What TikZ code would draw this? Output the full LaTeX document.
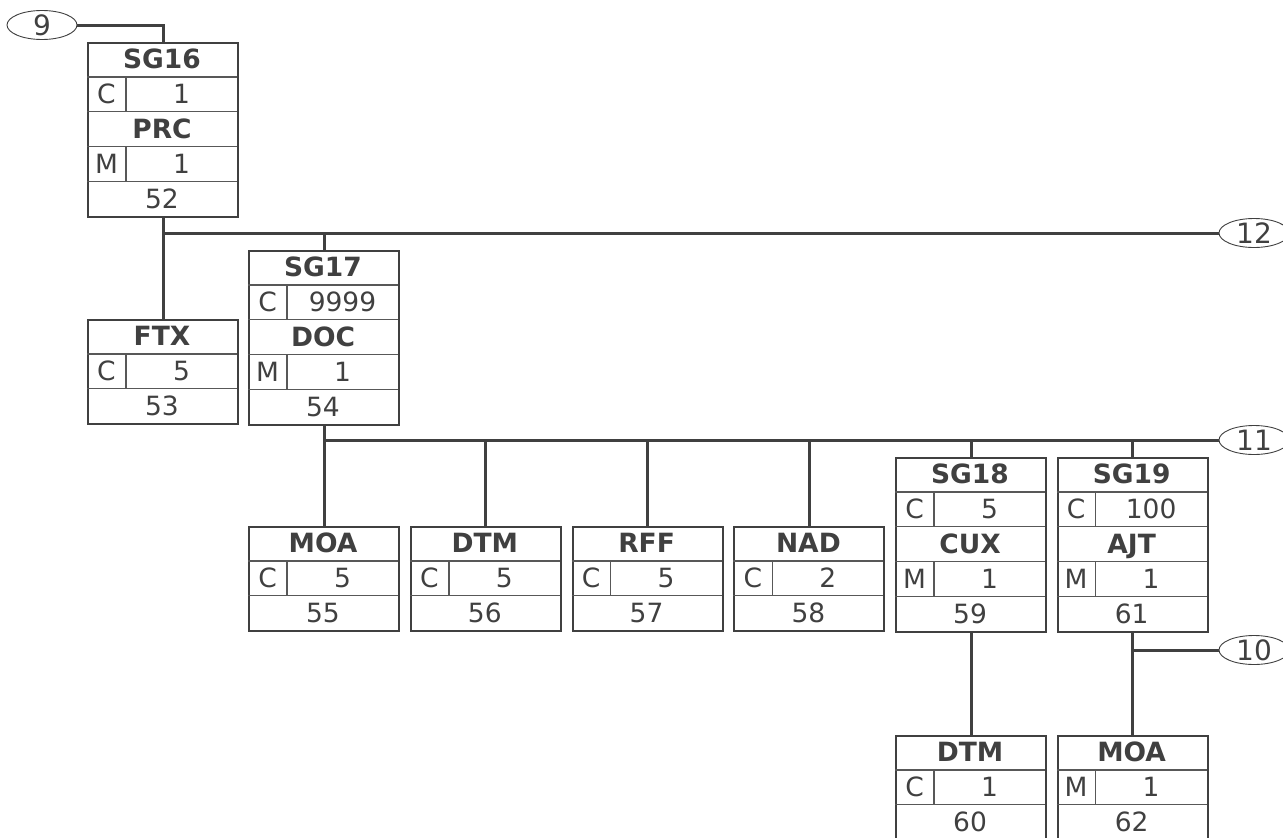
\documentclass[tikz,border=0pt]{standalone}
\usepackage{fontspec}
\setmainfont{DejaVu Sans}
\usepackage{tikz}
\usetikzlibrary{positioning}
\usetikzlibrary{shapes.geometric}
\usetikzlibrary{calc}

\definecolor{inkgray}{HTML}{404040}
\definecolor{rulegray}{HTML}{585858}
\def\rowh{34.8}
\def\boxw{150}
\def\stw{39}

\tikzset{
  segbox/.style={draw=inkgray, line width=2pt, minimum width=150pt, minimum height=104.4pt, inner sep=0pt},
  grpbox/.style={segbox, minimum height=174pt},
  conn/.style={ellipse, draw=inkgray, line width=0.9pt, minimum width=70pt, minimum height=29pt, inner sep=0pt, text=inkgray, text height=20pt, text depth=0pt, font=\fontsize{28}{30}\selectfont},
  link/.style={draw=inkgray, line width=3pt},
  inner/.style={draw=rulegray, line width=1.4pt},
  tagtxt/.style={text=inkgray, font=\fontsize{26.5}{30}\selectfont\bfseries, inner sep=0pt, text height=19pt, text depth=0pt},
  valtxt/.style={text=inkgray, font=\fontsize{26.5}{30}\selectfont, inner sep=0pt, text height=19pt, text depth=0pt}
}

\newcommand{\rowpair}[5]{%
  \begin{scope}[shift={(#1.north west)}]
    \draw[inner] (0,{(#2+1)*\rowh}) -- (\boxw,{(#2+1)*\rowh})
                 (0,{(#2+2)*\rowh}) -- (\boxw,{(#2+2)*\rowh})
                 (\stw,{(#2+1)*\rowh}) -- (\stw,{(#2+2)*\rowh});
    \node[tagtxt] (#1-t#2) at ({\boxw/2},{(#2+0.5)*\rowh}) {#3};
    \node[valtxt] (#1-s#2) at ({\stw/2},{(#2+1.5)*\rowh}) {#4};
    \node[valtxt] (#1-r#2) at ({(\stw+\boxw)/2},{(#2+1.5)*\rowh}) {#5};
  \end{scope}}
\newcommand{\segbody}[5]{%
  \rowpair{#1}{0}{#2}{#3}{#4}
  \begin{scope}[shift={(#1.north west)}]
    \node[valtxt] (#1-n) at ({\boxw/2},{2.5*\rowh}) {#5};
  \end{scope}}
\newcommand{\grpbody}[8]{%
  \rowpair{#1}{0}{#2}{#3}{#4}
  \rowpair{#1}{2}{#5}{#6}{#7}
  \begin{scope}[shift={(#1.north west)}]
    \node[valtxt] (#1-n) at ({\boxw/2},{4.5*\rowh}) {#8};
  \end{scope}}

\begin{document}
\begin{tikzpicture}[x=1pt,y=-1pt,node distance=161.8pt,on grid]
   \useasboundingbox (0,0) rectangle (1283,838);
   \node[conn] (c9)  at (42,25)    {9};
   \node[conn] (c12) at (1254,233) {12};
   \node[conn] (c11) at (1254,440) {11};
   \node[conn] (c10) at (1254,650) {10};

   \node[grpbox, anchor=north] (sg16) at (163,42)  {};
   \node[segbox, anchor=north] (ftx)  at (163,319) {};
   \node[grpbox, anchor=north] (sg17) at (324,250) {};
   \node[segbox] (moa) at (324,579.2) {};
   \node[segbox] (dtm) [right=of moa] {};
   \node[segbox] (rff) [right=of dtm] {};
   \node[segbox] (nad) [right=of rff] {};
   \node[grpbox, anchor=north] (sg18) at (971,457)    {};
   \node[grpbox, anchor=north] (sg19) at (1132.6,457) {};
   \node[segbox, anchor=north] (dtm2) at (971,735)    {};
   \node[segbox, anchor=north] (moa2) at (1132.6,735) {};

   \grpbody{sg16}{SG16}{C}{1}{PRC}{M}{1}{52}
   \segbody{ftx}{FTX}{C}{5}{53}
   \grpbody{sg17}{SG17}{C}{9999}{DOC}{M}{1}{54}
   \segbody{moa}{MOA}{C}{5}{55}
   \segbody{dtm}{DTM}{C}{5}{56}
   \segbody{rff}{RFF}{C}{5}{57}
   \segbody{nad}{NAD}{C}{2}{58}
   \grpbody{sg18}{SG18}{C}{5}{CUX}{M}{1}{59}
   \segbody{dtm2}{DTM}{C}{1}{60}
   \grpbody{sg19}{SG19}{C}{100}{AJT}{M}{1}{61}
   \segbody{moa2}{MOA}{M}{1}{62}

   \coordinate (j16) at (sg16.south |- c12.west);
   \coordinate (j17) at (sg17.south |- c11.west);
   \draw[link] (c9.east) -| (sg16.north);
   \draw[link] (sg16.south) -- (ftx.north);
   \draw[link] (j16) -- (c12.west);
   \draw[link] (sg17.north) -- (sg17.north |- j16);
   \draw[link] (sg17.south) -- (moa.north);
   \draw[link] (j17) -- (c11.west);
   \foreach \n in {dtm,rff,nad,sg18,sg19}
     \draw[link] (\n.north) -- (\n.north |- j17);
   \draw[link] (sg18.south) -- (dtm2.north);
   \draw[link] (sg19.south) -- (moa2.north);
   \draw[link] (sg19.south |- c10.west) -- (c10.west);
\end{tikzpicture}
\end{document}
